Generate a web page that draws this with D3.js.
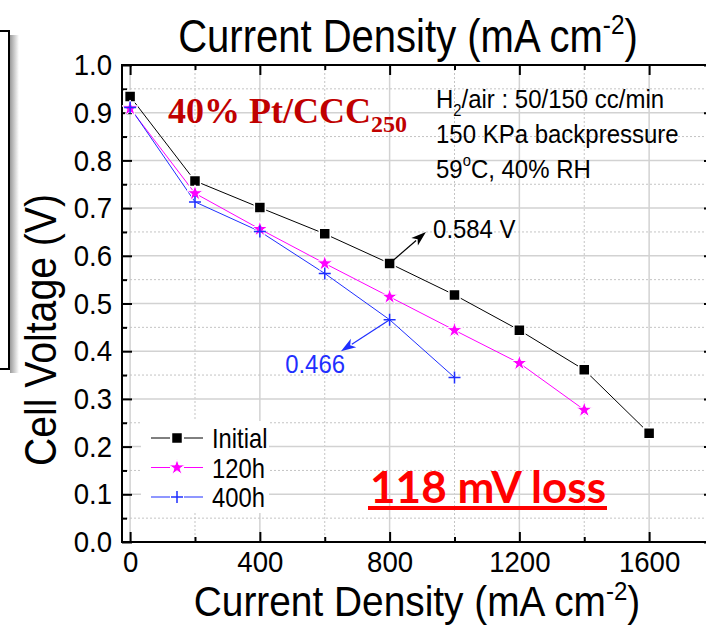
<!DOCTYPE html>
<html><head><meta charset="utf-8">
<script src="https://cdn.jsdelivr.net/npm/d3@7"></script>
<style>
html,body{margin:0;padding:0;background:#fff;}
svg{display:block;font-family:"Liberation Sans",Arial,sans-serif;}
</style></head>
<body>
<svg id="chart" width="706" height="625"></svg>
<script>
// ---- data ----
const currentInitial = [0,200,400,600,800,1000,1200,1400,1600];
const voltInitial    = [0.934,0.757,0.701,0.646,0.584,0.518,0.444,0.361,0.228];
const current120 = [0,200,400,600,800,1000,1200,1400];
const volt120    = [0.909,0.731,0.656,0.584,0.514,0.444,0.375,0.277];
const current400 = [0,200,400,600,800,1000];
const volt400    = [0.911,0.713,0.651,0.563,0.466,0.345];
const seriesNames = ["Initial","120h","400h"];
const xMajorTicks = [0,400,800,1200,1600];
const xMinorTicks = [200,600,1000,1400];
const yMajorTicks = [0,0.1,0.2,0.3,0.4,0.5,0.6,0.7,0.8,0.9,1.0];
const yMinorTicks = [0.05,0.15,0.25,0.35,0.45,0.55,0.65,0.75,0.85,0.95];
const xLabelText = "Current Density (mA cm";
const yLabelText = "Cell Voltage (V)";
const conditionLines = ["H|2|/air : 50/150 cc/min","150 KPa backpressure","59|o|C, 40% RH"];
// annotation anchors in data units
const annInitial = {from:[800,0.584], to:[912,0.650], text:"0.584 V", at:[934,0.637]};
const ann400h   = {from:[800,0.466], to:[650,0.400], text:"0.466", at:[478,0.354]};

const svg = d3.select("#chart");
const x = d3.scaleLinear().domain([-25,1800]).range([122,714]);
const y = d3.scaleLinear().domain([0,1]).range([542,65]);
const X0 = x.range()[0], X1 = x.range()[1], Y0 = y.range()[0], Y1 = y.range()[1];

// narrow text helper
function ntext(parent, px, py, size, sx){
  return parent.append("g").attr("transform",`translate(${px},${py}) scale(${sx},1)`)
    .append("text").attr("font-size",size);
}

// left-edge cropped box remnant
const shadow = svg.append("defs").append("linearGradient").attr("id","sh").attr("x1",0).attr("x2",1);
shadow.append("stop").attr("offset",0).attr("stop-color","#9a9a9a");
shadow.append("stop").attr("offset",1).attr("stop-color","#ffffff");
svg.append("rect").attr("x",10).attr("y",35).attr("width",9).attr("height",338).attr("fill","url(#sh)");
svg.append("path").attr("d","M0,31H9V369H0").attr("fill","none").attr("stroke","#000").attr("stroke-width",2);

// grid
const grid = svg.append("g");
grid.selectAll(".gxM").data(xMajorTicks).join("line")
  .attr("x1",d=>x(d)).attr("x2",d=>x(d)).attr("y1",Y1).attr("y2",Y0)
  .attr("stroke","#d2d2d2").attr("stroke-width",1.5);
grid.selectAll(".gxm").data(xMinorTicks).join("line")
  .attr("x1",d=>x(d)).attr("x2",d=>x(d)).attr("y1",Y1).attr("y2",Y0)
  .attr("stroke","#c4c4c4").attr("stroke-width",1).attr("stroke-dasharray","2,2");
grid.selectAll(".gyM").data(yMajorTicks.slice(1,-1)).join("line")
  .attr("x1",X0).attr("x2",X1).attr("y1",d=>y(d)).attr("y2",d=>y(d))
  .attr("stroke","#d2d2d2").attr("stroke-width",1.5);
grid.selectAll(".gym").data(yMinorTicks).join("line")
  .attr("x1",X0).attr("x2",X1).attr("y1",d=>y(d)).attr("y2",d=>y(d))
  .attr("stroke","#c4c4c4").attr("stroke-width",1).attr("stroke-dasharray","2,2");

// axes
const TS = 30, TSX = 0.92;
function styleAxis(g){
  g.select(".domain").remove();
  g.selectAll("line").attr("stroke","#000").attr("stroke-width",2);
  g.selectAll("text").attr("font-size",TS).attr("fill","#000").attr("font-family","Liberation Sans, Arial, sans-serif");
}
svg.append("g").attr("transform",`translate(0,${Y0})`)
  .call(d3.axisBottom(x).tickValues(xMajorTicks).tickSize(-10).tickPadding(9).tickFormat(d3.format("d"))).call(styleAxis)
  .selectAll("text").attr("transform",`scale(${TSX},1)`);
svg.append("g").attr("transform",`translate(0,${Y0})`)
  .call(d3.axisBottom(x).tickValues(xMinorTicks).tickSize(-5).tickFormat("")).call(styleAxis);
svg.append("g").attr("transform",`translate(0,${Y1})`)
  .call(d3.axisTop(x).tickValues(xMajorTicks).tickSize(-10).tickFormat("")).call(styleAxis);
svg.append("g").attr("transform",`translate(0,${Y1})`)
  .call(d3.axisTop(x).tickValues(xMinorTicks).tickSize(-5).tickFormat("")).call(styleAxis);
svg.append("g").attr("transform",`translate(${X0},0)`)
  .call(d3.axisLeft(y).tickValues(yMajorTicks).tickSize(-10).tickPadding(10).tickFormat(d3.format(".1f"))).call(styleAxis)
  .selectAll("text").attr("x",-10/TSX).attr("transform",`scale(${TSX},1)`);
svg.append("g").attr("transform",`translate(${X0},0)`)
  .call(d3.axisLeft(y).tickValues(yMinorTicks).tickSize(-5).tickFormat("")).call(styleAxis);
svg.append("g").attr("transform",`translate(${X1},0)`)
  .call(d3.axisRight(y).tickValues(yMajorTicks).tickSize(-10).tickFormat("")).call(styleAxis);
svg.append("g").attr("transform",`translate(${X1},0)`)
  .call(d3.axisRight(y).tickValues(yMinorTicks).tickSize(-5).tickFormat("")).call(styleAxis);
svg.append("rect").attr("x",X0).attr("y",Y1).attr("width",X1-X0).attr("height",Y0-Y1)
  .attr("fill","none").attr("stroke","#000").attr("stroke-width",2);

// series
const series = [
  {name:seriesNames[0], xs:currentInitial, ys:voltInitial, color:"#000000", sym:"square"},
  {name:seriesNames[1], xs:current120, ys:volt120, color:"#ff00ff", sym:"star"},
  {name:seriesNames[2], xs:current400, ys:volt400, color:"#1f2fff", sym:"cross"}
];
const line = d3.line().x(d=>x(d[0])).y(d=>y(d[1]));
function drawMarker(g, sym, color){
  if(sym==="square") g.append("path").attr("d",d3.symbol(d3.symbolSquare,121)()).attr("fill",color).attr("stroke","#fff").attr("stroke-width",1.5);
  else if(sym==="star") g.append("path").attr("d",d3.symbol(d3.symbolStar,80)()).attr("fill",color).attr("stroke","#fff").attr("stroke-width",1);
  else g.append("path").attr("d","M-6,0H6M0,-6V6").attr("fill","none").attr("stroke",color).attr("stroke-width",1.5);
}
series.forEach(s=>{
  const pts = s.xs.map((v,i)=>[v,s.ys[i]]);
  svg.append("path").datum(pts).attr("d",line).attr("fill","none").attr("stroke",s.color).attr("stroke-width",1);
});
series.forEach(s=>{
  s.xs.forEach((v,i)=>{
    const g = svg.append("g").attr("transform",`translate(${x(v)},${y(s.ys[i])})`);
    drawMarker(g,s.sym,s.color);
  });
});

// annotations (arrows)
function arrow(a,color){
  const x1=x(a.from[0]), y1=y(a.from[1]), x2=x(a.to[0]), y2=y(a.to[1]);
  const ang=Math.atan2(y2-y1,x2-x1), L=15, Wd=5;
  const bx=x2-L*Math.cos(ang), by=y2-L*Math.sin(ang);
  svg.append("line").attr("x1",x1).attr("y1",y1).attr("x2",bx+2*Math.cos(ang)).attr("y2",by+2*Math.sin(ang)).attr("stroke",color).attr("stroke-width",1.2);
  const p=[[x2,y2],[bx+Wd*Math.sin(ang),by-Wd*Math.cos(ang)],[bx+4*Math.cos(ang),by+4*Math.sin(ang)],[bx-Wd*Math.sin(ang),by+Wd*Math.cos(ang)]];
  svg.append("path").attr("d","M"+p.map(q=>q.join(",")).join("L")+"Z").attr("fill",color);
  ntext(svg, x(a.at[0]), y(a.at[1]), 26, 0.92).attr("fill",color).text(a.text);
}
arrow(annInitial,"#000");
arrow(ann400h,"#1f2fff");

// legend
const lg = svg.append("g");
lg.append("rect").attr("x",141).attr("y",421).attr("width",128).attr("height",92).attr("fill","#fff");
series.forEach((s,i)=>{
  const yy = 438 + i*29.5;
  lg.append("line").attr("x1",151).attr("x2",170).attr("y1",yy).attr("y2",yy).attr("stroke",s.color).attr("stroke-width",1);
  lg.append("line").attr("x1",184).attr("x2",203).attr("y1",yy).attr("y2",yy).attr("stroke",s.color).attr("stroke-width",1);
  const g = lg.append("g").attr("transform",`translate(177,${yy})`);
  drawMarker(g,s.sym,s.color);
  ntext(lg, 212, yy+10, 27, 0.88).text(s.name);
});

// titles
const t = ntext(svg, 408, 52, 46, 0.87).attr("text-anchor","middle");
t.append("tspan").text(xLabelText);
t.append("tspan").attr("font-size",28).attr("dy",-18).text("-2");
t.append("tspan").attr("dy",18).text(")");
const b = ntext(svg, 417, 616, 42, 0.925).attr("text-anchor","middle");
b.append("tspan").text(xLabelText);
b.append("tspan").attr("font-size",26).attr("dy",-16).text("-2");
b.append("tspan").attr("dy",16).text(")");
svg.append("g").attr("transform","translate(56,330) rotate(-90) scale(0.87,1)")
  .append("text").attr("text-anchor","middle").attr("font-size",45).text(yLabelText);

// sample label
const s1 = svg.append("text").attr("x",168).attr("y",123).attr("font-family","Liberation Serif, Times New Roman, serif").attr("font-weight","bold").attr("font-size",36).attr("fill","#c00000");
s1.append("tspan").text("40% Pt/CCC");
s1.append("tspan").attr("font-size",24).attr("dy",9).text("250");

// conditions
conditionLines.forEach((ln,i)=>{
  const parts = ln.split("|");
  const tx = ntext(svg, 436, 108+i*35, 26, 0.923);
  if(parts.length===1){ tx.text(ln); return; }
  const sub = i===0;
  tx.append("tspan").text(parts[0]);
  tx.append("tspan").attr("font-size",16).attr("dy",sub?8:-12).text(parts[1]);
  tx.append("tspan").attr("dy",sub?-8:12).text(parts[2]);
});

// loss label
svg.append("text").attr("x",370).attr("y",503).attr("font-family","Lato, sans-serif").attr("font-weight","bold")
  .attr("font-size",44).attr("fill","#ff0000").attr("textLength",236).attr("lengthAdjust","spacingAndGlyphs").text("118 mV loss");
svg.append("line").attr("x1",368).attr("x2",607).attr("y1",508).attr("y2",508).attr("stroke","#ff0000").attr("stroke-width",4);
</script>
</body></html>
